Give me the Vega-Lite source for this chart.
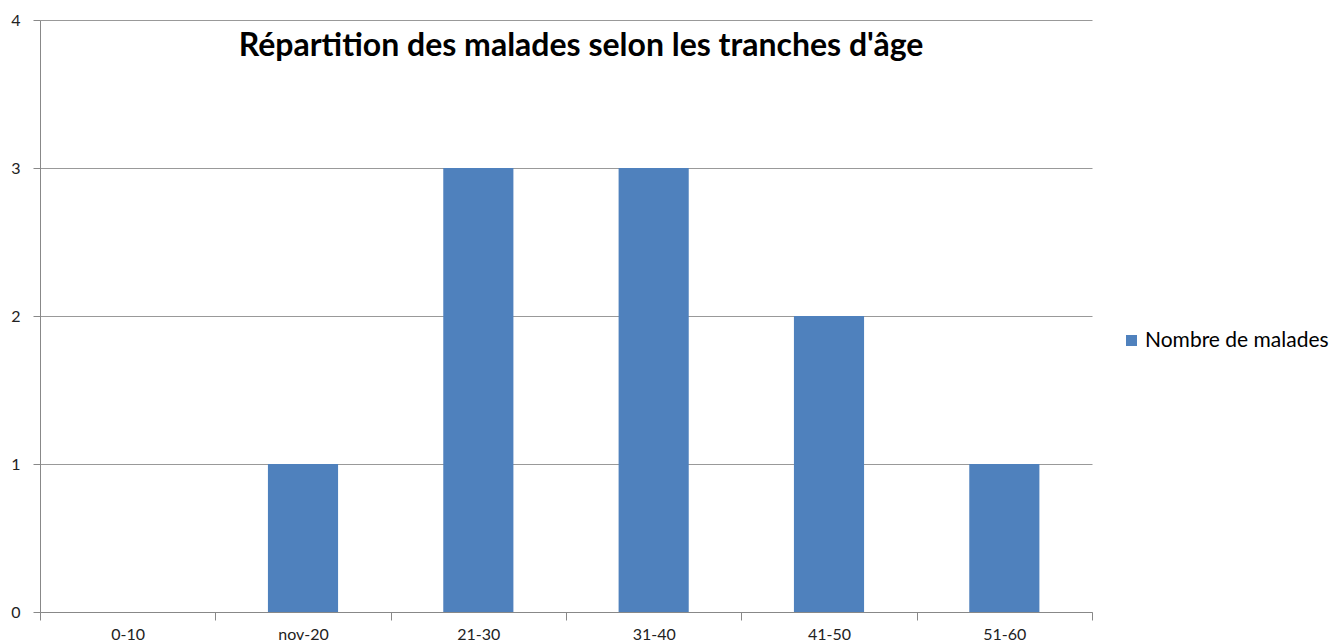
{
  "$schema": "https://vega.github.io/schema/vega-lite/v6.json",
  "autosize": "none",
  "width": 1052,
  "height": 592,
  "padding": {"left": 40, "top": 20, "right": 250, "bottom": 32},
  "background": "white",
  "title": {
    "text": "Répartition des malades selon les tranches d'âge",
    "font": "Lato",
    "fontSize": 32,
    "fontWeight": "bold",
    "color": "#000000",
    "anchor": "middle",
    "dx": 15,
    "offset": -66,
    "baseline": "middle"
  },
  "data": {
    "values": [
      {"tranche": "0-10", "n": 0, "serie": "Nombre de malades"},
      {"tranche": "nov-20", "n": 1, "serie": "Nombre de malades"},
      {"tranche": "21-30", "n": 3, "serie": "Nombre de malades"},
      {"tranche": "31-40", "n": 3, "serie": "Nombre de malades"},
      {"tranche": "41-50", "n": 2, "serie": "Nombre de malades"},
      {"tranche": "51-60", "n": 1, "serie": "Nombre de malades"}
    ]
  },
  "mark": {"type": "bar", "width": {"band": 0.4}},
  "encoding": {
    "x": {
      "field": "tranche",
      "type": "nominal",
      "sort": null,
      "scale": {"paddingInner": 0, "paddingOuter": 0},
      "axis": {
        "title": null,
        "labelAngle": 0,
        "labelFont": "Lato",
        "labelFontSize": 16,
        "labelColor": "#222222",
        "labelPadding": 6,
        "tickBand": "extent",
        "tickSize": 8,
        "tickColor": "#888888",
        "domainColor": "#888888",
        "grid": false
      }
    },
    "y": {
      "field": "n",
      "type": "quantitative",
      "scale": {"domain": [0, 4]},
      "axis": {
        "title": null,
        "values": [0, 1, 2, 3, 4],
        "labelFont": "Lato",
        "labelFontSize": 16,
        "labelColor": "#222222",
        "labelPadding": 13,
        "tickSize": 7,
        "tickColor": "#888888",
        "domainColor": "#888888",
        "grid": true,
        "gridColor": "#999999"
      }
    },
    "color": {
      "field": "serie",
      "type": "nominal",
      "scale": {"range": ["#4F81BD"]},
      "legend": {
        "title": null,
        "orient": "none",
        "legendX": 1081,
        "legendY": 310,
        "symbolType": "square",
        "symbolSize": 121,
        "symbolStrokeWidth": 0,
        "labelFont": "Lato",
        "labelFontSize": 21,
        "labelLimit": 300,
        "labelColor": "#000000",
        "labelOffset": 3
      }
    }
  },
  "config": {"view": {"stroke": null}}
}
